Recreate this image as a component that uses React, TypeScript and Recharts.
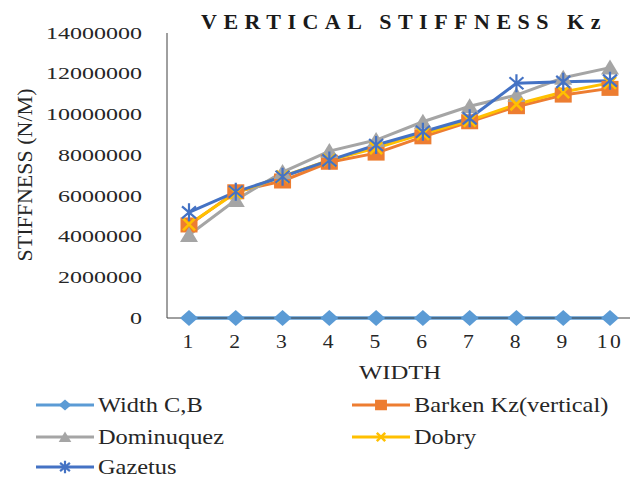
import React from 'react';
import { LineChart, Line, XAxis, YAxis } from 'recharts';

// values
const widths = [1, 2, 3, 4, 5, 6, 7, 8, 9, 10];
const widthCB = [1, 2, 3, 4, 5, 6, 7, 8, 9, 10];
const barken = [4570000, 6200000, 6730000, 7650000, 8100000, 8900000, 9640000, 10380000, 10950000, 11280000];
const dominuquez = [4080000, 5800000, 7170000, 8200000, 8740000, 9640000, 10400000, 10950000, 11800000, 12300000];
const dobry = [4600000, 6150000, 6950000, 7750000, 8350000, 9050000, 9700000, 10500000, 11100000, 11550000];
const gazetus = [5190000, 6200000, 6940000, 7740000, 8500000, 9150000, 9810000, 11530000, 11600000, 11660000];
const yTicks = [0, 2000000, 4000000, 6000000, 8000000, 10000000, 12000000, 14000000];

const series = [
  { key: 'widthCB', name: 'Width C,B', color: '#5B9BD5', marker: 'diamond' },
  { key: 'barken', name: 'Barken Kz(vertical)', color: '#ED7D31', marker: 'square' },
  { key: 'dominuquez', name: 'Dominuquez', color: '#A5A5A5', marker: 'triangle' },
  { key: 'dobry', name: 'Dobry', color: '#FFC000', marker: 'x' },
  { key: 'gazetus', name: 'Gazetus', color: '#4472C4', marker: 'star' },
];

const data = widths.map((w, i) => ({
  width: String(w),
  widthCB: widthCB[i],
  barken: barken[i],
  dominuquez: dominuquez[i],
  dobry: dobry[i],
  gazetus: gazetus[i],
}));

const TEXT = '#262626';
const FONT = '"Liberation Serif", "Times New Roman", serif';

function Marker({ kind, cx, cy, color, s = 1 }: any) {
  if (cx == null || cy == null) return null;
  switch (kind) {
    case 'diamond':
      return (
        <polygon
          points={`${cx},${cy - 8 * s} ${cx + 9 * s},${cy} ${cx},${cy + 8 * s} ${cx - 9 * s},${cy}`}
          fill={color}
        />
      );
    case 'square':
      return <rect x={cx - 8.5 * s} y={cy - 7.5 * s} width={17 * s} height={15 * s} fill={color} />;
    case 'triangle':
      return (
        <polygon
          points={`${cx},${cy - 8 * s} ${cx + 9 * s},${cy + 7 * s} ${cx - 9 * s},${cy + 7 * s}`}
          fill={color}
        />
      );
    case 'x':
      return (
        <path
          d={`M${cx - 6 * s},${cy - 6 * s}L${cx + 6 * s},${cy + 6 * s}M${cx + 6 * s},${cy - 6 * s}L${cx - 6 * s},${cy + 6 * s}`}
          stroke={color}
          strokeWidth={2.5}
          fill="none"
        />
      );
    case 'star':
      return (
        <path
          d={`M${cx - 7 * s},${cy - 6 * s}L${cx + 7 * s},${cy + 6 * s}M${cx + 7 * s},${cy - 6 * s}L${cx - 7 * s},${cy + 6 * s}M${cx},${cy - 9 * s}L${cx},${cy + 9 * s}`}
          stroke={color}
          strokeWidth={2.2}
          fill="none"
        />
      );
    default:
      return null;
  }
}

const YTick = ({ x, y, payload }: any) => (
  <g transform={`translate(${x},${y})`}>
    <text transform="scale(1.5,1)" textAnchor="end" dy="0.355em" fontSize={16} fill={TEXT} fontFamily={FONT}>
      {payload.value}
    </text>
  </g>
);

const XTick = ({ x, y, payload }: any) => (
  <g transform={`translate(${x},${y})`}>
    <text
      transform="scale(1.2,1)"
      textAnchor="middle"
      dy="0.71em"
      fontSize={18}
      letterSpacing={2}
      fill={TEXT}
      fontFamily={FONT}
    >
      {payload.value}
    </text>
  </g>
);

const legendCols = [36, 352];
const legendRows = [405, 437, 467];

export default function App() {
  return (
    <div
      style={{
        position: 'fixed',
        left: 0,
        top: 0,
        width: 630,
        height: 479,
        background: '#fff',
        fontFamily: FONT,
      }}
    >
      <LineChart width={630} height={479} data={data} margin={{ top: 33, right: 0, left: 0, bottom: 131 }}>
        <XAxis
          dataKey="width"
          type="category"
          interval={0}
          padding={{ left: 22, right: 20 }}
          height={30}
          tickLine={false}
          tickSize={0}
          tickMargin={17}
          axisLine={{ stroke: '#404040', strokeWidth: 1 }}
          tick={<XTick />}
        />
        <YAxis
          type="number"
          domain={[0, 14000000]}
          ticks={yTicks}
          interval={0}
          width={167}
          tickLine={false}
          tickSize={0}
          tickMargin={25}
          axisLine={{ stroke: '#404040', strokeWidth: 1 }}
          tick={<YTick />}
        />
        {series.map((s) => (
          <Line
            key={s.key}
            dataKey={s.key}
            name={s.name}
            stroke={s.color}
            strokeWidth={s.key === 'widthCB' ? 3.5 : 3}
            isAnimationActive={false}
            activeDot={false}
            dot={(p: any) => <Marker key={`${s.key}-${p.index}`} kind={s.marker} cx={p.cx} cy={p.cy} color={s.color} />}
          />
        ))}
      </LineChart>
      <svg
        width={630}
        height={479}
        style={{ position: 'absolute', left: 0, top: 0, pointerEvents: 'none' }}
        fontFamily={FONT}
      >
        <text x={404} y={28.5} textAnchor="middle" fontSize={22} fontWeight="bold" letterSpacing={6.5} fill="#1a1a1a">
          VERTICAL STIFFNESS Kz
        </text>
        <text transform="translate(32,175) rotate(-90)" textAnchor="middle" fontSize={22} fill={TEXT}>
          STIFFNESS (N/M)
        </text>
        <g transform="translate(400,379) scale(1.3,1)">
          <text textAnchor="middle" fontSize={19} fill={TEXT}>
            WIDTH
          </text>
        </g>
        {series.map((s, i) => {
          const lx = legendCols[i % 2];
          const ly = legendRows[Math.floor(i / 2)];
          return (
            <g key={s.key}>
              <line x1={lx} y1={ly} x2={lx + 58} y2={ly} stroke={s.color} strokeWidth={3} />
              <Marker kind={s.marker} cx={lx + 29} cy={ly} color={s.color} s={0.7} />
              <g transform={`translate(${lx + 62},${ly + 7}) scale(1.22,1)`}>
                <text fontSize={20} fill={TEXT}>
                  {s.name}
                </text>
              </g>
            </g>
          );
        })}
      </svg>
    </div>
  );
}
